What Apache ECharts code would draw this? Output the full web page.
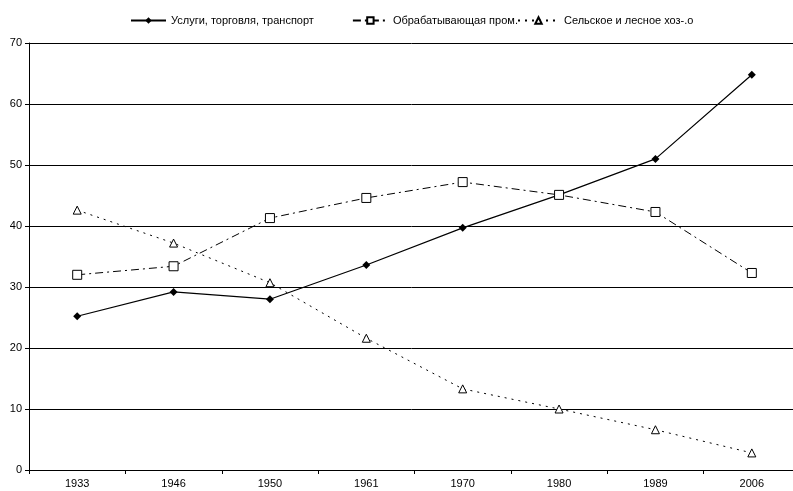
<!DOCTYPE html>
<html>
<head>
<meta charset="utf-8">
<script src="https://cdn.jsdelivr.net/npm/echarts@6/dist/echarts.min.js"></script>
<style>
html, body { margin: 0; padding: 0; background: #fff; }
#chart { width: 793px; height: 491px; }
</style>
</head>
<body>
<div id="chart"></div>
<script>
var years = ['1933', '1946', '1950', '1961', '1970', '1980', '1989', '2006'];
var services = [25.2, 29.2, 28.0, 33.6, 39.7, 45.1, 51.0, 64.8];
var manufacturing = [32.0, 33.4, 41.3, 44.6, 47.2, 45.1, 42.3, 32.3];
var agriculture = [42.6, 37.2, 30.7, 21.6, 13.3, 10.0, 6.6, 2.8];
var names = ['Услуги, торговля, транспорт', 'Обрабатывающая пром.', 'Сельское и лесное хоз-.о'];

var myChart = echarts.init(document.getElementById('chart'));

var legendText = { fontSize: 11, color: '#000', fontFamily: 'Liberation Sans, Arial, sans-serif' };

var option = {
    animation: false,
    backgroundColor: '#fff',
    textStyle: { fontFamily: 'Liberation Sans, Arial, sans-serif' },
    legend: [
        {
            top: 10,
            left: 125,
            itemWidth: 35,
            itemHeight: 8,
            itemGap: 38,
            textStyle: legendText,
            data: [names[0], names[1]]
        },
        {
            top: 10,
            left: 512,
            itemWidth: 41,
            itemHeight: 8,
            textStyle: legendText,
            data: [names[2]]
        }
    ],
    grid: { left: 29, right: -7, top: 43, bottom: 21, outerBoundsMode: 'none' },
    xAxis: {
        type: 'category',
        data: years,
        boundaryGap: true,
        axisLine: { lineStyle: { color: '#000', width: 1 } },
        axisTick: { show: true, length: 4, lineStyle: { color: '#000' } },
        axisLabel: { color: '#000', fontSize: 11, margin: 8 }
    },
    yAxis: {
        type: 'value',
        min: 0,
        max: 70,
        interval: 10,
        axisLine: { show: true, lineStyle: { color: '#000', width: 1 } },
        axisTick: { show: true, length: 4, lineStyle: { color: '#000' } },
        axisLabel: { color: '#000', fontSize: 11, margin: 7 },
        splitLine: { lineStyle: { color: '#000', width: 1 } }
    },
    series: [
        {
            name: names[0],
            type: 'line',
            data: services,
            symbol: 'diamond',
            symbolSize: 8,
            itemStyle: { color: '#000' },
            lineStyle: { color: '#000', width: 1.2, type: 'solid' }
        },
        {
            name: names[1],
            type: 'line',
            data: manufacturing,
            symbol: 'rect',
            symbolSize: 9,
            itemStyle: { color: '#fff', borderColor: '#000', borderWidth: 1 },
            lineStyle: { color: '#000', width: 1, type: [8, 4, 2, 4] }
        },
        {
            name: names[2],
            type: 'line',
            data: agriculture,
            symbol: 'triangle',
            symbolSize: 8,
            itemStyle: { color: '#fff', borderColor: '#000', borderWidth: 1 },
            lineStyle: { color: '#000', width: 1, type: [2, 5] }
        }
    ]
};

myChart.setOption(option, true);
</script>
</body>
</html>
